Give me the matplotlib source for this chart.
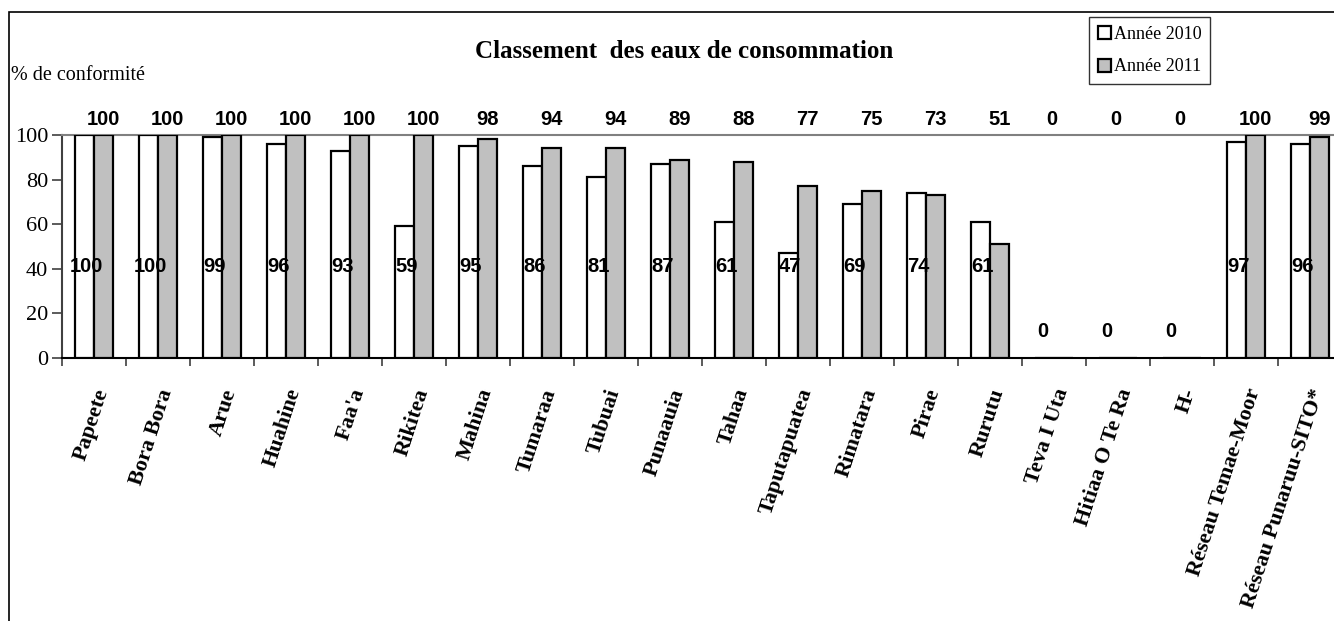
import numpy as np
import matplotlib.pyplot as plt
from matplotlib.patches import Rectangle

# Eau de consommation : % de conformite par commune
communes = ["Papeete", "Bora Bora", "Arue", "Huahine", "Faa'a", "Rikitea",
            "Mahina", "Tumaraa", "Tubuai", "Punaauia", "Tahaa", "Taputapuatea",
            "Rimatara", "Pirae", "Rurutu", "Teva I Uta", "Hitiaa O Te Ra", "H-",
            "Réseau Temae-Moor", "Réseau Punaruu-SITO*"]
annee_2010 = [100, 100, 99, 96, 93, 59, 95, 86, 81, 87, 61, 47, 69, 74, 61,
              0, 0, 0, 97, 96]
annee_2011 = [100, 100, 100, 100, 100, 100, 98, 94, 94, 89, 88, 77, 75, 73, 51,
              0, 0, 0, 100, 99]
yticks = [0, 20, 40, 60, 80, 100]

W, H = 1334, 621
fig = plt.figure(figsize=(W / 100, H / 100), dpi=100)
fig.patch.set_facecolor("white")

# cadre du graphique (bords droit et bas hors image)
fig.patches.append(Rectangle((9 / W, -0.5), 2.0, 1.5 - 12 / H, transform=fig.transFigure,
                             fill=False, edgecolor="black", linewidth=1.2))

ax = fig.add_axes([62 / W, 1 - 358 / H, (1342 - 62) / W, (358 - 135) / H])

x = np.arange(len(communes))
w = 0.29
ax.bar(x - w / 2, annee_2010, w, color="white", edgecolor="black", linewidth=1.6,
       label="Année 2010", zorder=3)
ax.bar(x + w / 2, annee_2011, w, color="#c0c0c0", edgecolor="black", linewidth=1.6,
       label="Année 2011", zorder=3)

ax.set_xlim(-0.5, len(communes) - 0.5)
ax.set_ylim(0, 100)

lbl = dict(fontsize=14.5, fontweight="bold", family="Liberation Sans",
           ha="center", va="center", zorder=5, clip_on=False)
for xi, v in zip(x, annee_2010):
    ax.text(xi - 0.12 if v > 0 else xi - 0.17, 41 if v > 0 else 12, f"{v}", **lbl)
for xi, v in zip(x, annee_2011):
    ax.text(xi + 0.15 if v > 0 else xi - 0.03, 107, f"{v}", **lbl)

# axes
ax.spines["right"].set_visible(False)
ax.spines["top"].set_color("#808080")
ax.spines["top"].set_linewidth(1.5)
ax.spines["left"].set_color("#404040")
ax.spines["left"].set_linewidth(1.5)
ax.spines["bottom"].set_linewidth(1.5)

ax.set_yticks(yticks)
ax.set_yticklabels([str(t) for t in yticks], family="Liberation Serif", fontsize=16)
ax.tick_params(axis="y", length=7, width=1.2, color="#404040", pad=3)

ax.set_xticks(np.arange(len(communes) + 1) - 0.5, minor=True)
ax.set_xticks(x)
ax.set_xticklabels([])
ax.tick_params(axis="x", which="major", length=0)
ax.tick_params(axis="x", which="minor", length=6, width=1.2, color="#404040")

for xi, name in zip(x, communes):
    ax.text(xi + 0.14, -14, name, rotation=72, rotation_mode="anchor",
            ha="right", va="center", family="Liberation Serif", fontsize=16,
            fontweight="bold", clip_on=False)

fig.text(684 / W, 1 - 52 / H, "Classement  des eaux de consommation", ha="center",
         va="center", family="Liberation Serif", fontsize=18, fontweight="bold")
fig.text(11 / W, 1 - 75 / H, "% de conformité", ha="left", va="center",
         family="Liberation Serif", fontsize=14.5)

leg = ax.legend(loc="upper left", bbox_to_anchor=(1089 / W, 1 - 17 / H),
                bbox_transform=fig.transFigure, frameon=True, fancybox=False,
                prop={"family": "Liberation Serif", "size": 13},
                handlelength=0.72, handleheight=0.72, handletextpad=0.15,
                borderpad=0.5, labelspacing=0.85, borderaxespad=0)
leg.get_frame().set_edgecolor("black")
leg.get_frame().set_linewidth(1.0)

fig.savefig("out.png", dpi=100, facecolor="white")
